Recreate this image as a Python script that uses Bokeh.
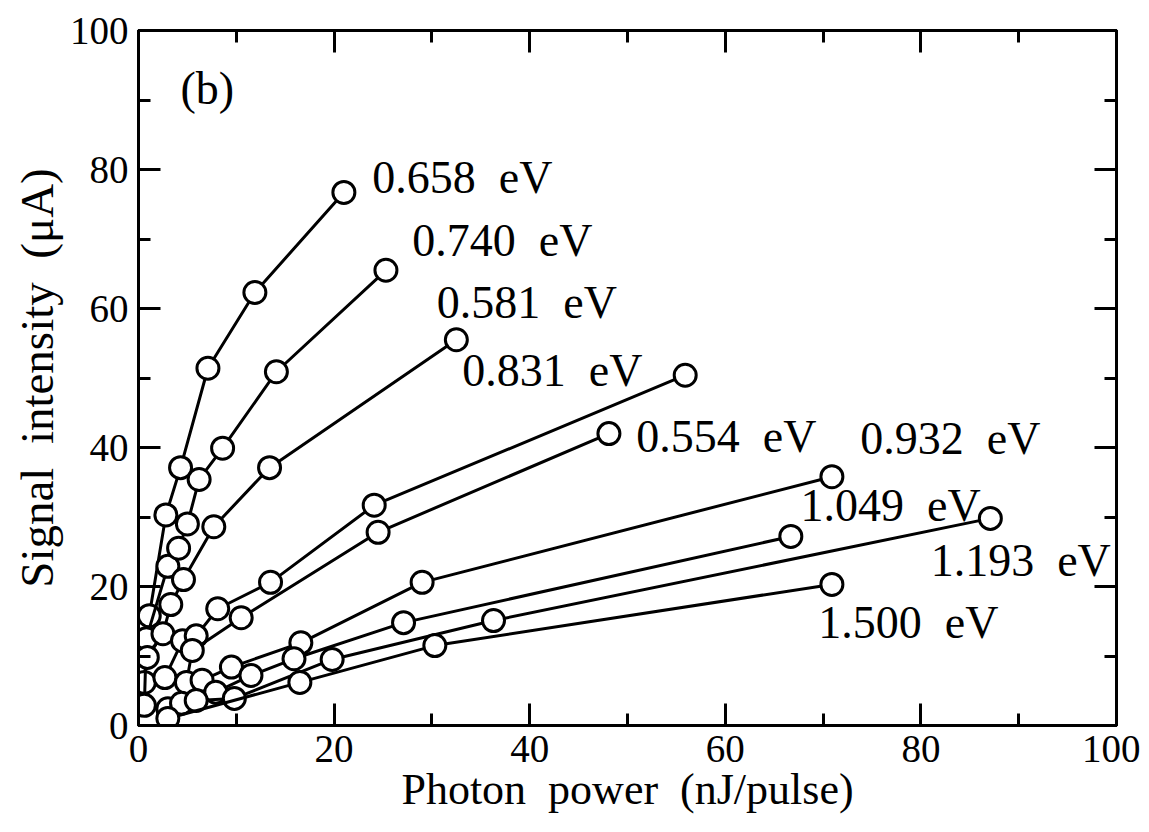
from bokeh.plotting import figure
from bokeh.models import LinearAxis, SingleIntervalTicker, Range1d
from bokeh.core.properties import value
from bokeh.embed import file_html
from bokeh.resources import INLINE

# ---- data ----
SP = "\u00a0\u00a0"
labels = ["0.658" + SP + "eV", "0.740" + SP + "eV", "0.581" + SP + "eV",
          "0.831" + SP + "eV", "0.554" + SP + "eV", "0.932" + SP + "eV",
          "1.049" + SP + "eV", "1.193" + SP + "eV", "1.500" + SP + "eV"]

x_0658 = [0.6, 1.1, 2.8, 4.3, 7.1, 11.9, 21.0]
y_0658 = [6.2, 15.8, 30.3, 37.1, 51.4, 62.3, 76.7]

x_0740 = [0.6, 0.8, 3.0, 4.1, 5.0, 6.2, 8.6, 14.1, 25.3]
y_0740 = [2.9, 12.5, 22.9, 25.5, 29.0, 35.4, 39.9, 50.9, 65.5]

x_0581 = [0.9, 2.5, 3.3, 4.6, 7.7, 13.4, 32.5]
y_0581 = [9.8, 13.2, 17.4, 21.0, 28.6, 37.1, 55.5]

x_0831 = [2.7, 4.5, 5.9, 8.1, 13.5, 24.1, 55.9]
y_0831 = [6.9, 12.2, 12.9, 16.8, 20.6, 31.7, 50.4]

x_0554 = [3.0, 4.9, 5.5, 10.5, 24.5, 48.1]
y_0554 = [2.4, 6.2, 10.8, 15.5, 27.8, 42.0]

x_0932 = [4.4, 6.5, 9.5, 16.6, 29.0, 70.9]
y_0932 = [3.2, 6.5, 8.4, 11.9, 20.6, 35.8]

x_1049 = [7.9, 11.5, 15.9, 27.1, 66.7]
y_1049 = [4.8, 7.2, 9.6, 14.8, 27.2]

x_1193 = [5.9, 9.8, 19.8, 36.3, 87.1]
y_1193 = [3.6, 3.9, 9.5, 15.1, 29.8]

x_1500 = [3.0, 16.5, 30.3, 70.9]
y_1500 = [1.0, 6.2, 11.5, 20.3]

series_x = [x_0658, x_0740, x_0581, x_0831, x_0554, x_0932, x_1049, x_1193, x_1500]
series_y = [y_0658, y_0740, y_0581, y_0831, y_0554, y_0932, y_1049, y_1193, y_1500]

# label anchor positions (data units)
label_x = [23.9, 28.0, 30.5, 33.1, 50.9, 73.8, 67.7, 81.0, 69.5]
label_y = [78.9, 69.8, 60.9, 51.1, 41.6, 41.3, 31.7, 23.7, 14.8]

FONT = "Liberation Serif"

p = figure(width=1140, height=825, output_backend="svg", toolbar_location=None,
           x_range=Range1d(0, 100), y_range=Range1d(0, 100),
           min_border_left=138, min_border_right=24, min_border_top=30,
           min_border_bottom=100)

p.xgrid.visible = False
p.ygrid.visible = False
p.background_fill_color = "white"
p.border_fill_color = "white"
p.outline_line_color = "black"
p.outline_line_width = 3

def style_axis(ax, show_labels):
    ax.ticker = SingleIntervalTicker(interval=20, num_minor_ticks=2)
    ax.axis_line_width = 3
    ax.axis_line_color = "black"
    ax.major_tick_in = 22
    ax.major_tick_out = 0
    ax.minor_tick_in = 12
    ax.minor_tick_out = 0
    ax.major_tick_line_width = 3
    ax.minor_tick_line_width = 3
    ax.major_tick_line_color = "black"
    ax.minor_tick_line_color = "black"
    ax.major_label_text_font = FONT
    ax.major_label_text_font_size = "39px"
    ax.major_label_text_color = "black"
    ax.axis_label_text_font = FONT
    ax.axis_label_text_font_size = "44px"
    ax.axis_label_text_font_style = "normal"
    ax.axis_label_text_color = "black"
    if not show_labels:
        ax.major_label_text_alpha = 0
        ax.major_label_text_font_size = "1px"

style_axis(p.xaxis[0], True)
style_axis(p.yaxis[0], True)
p.xaxis[0].axis_label = "Photon\u00a0\u00a0power\u00a0\u00a0(nJ/pulse)"
p.yaxis[0].axis_label = "Signal\u00a0\u00a0intensity\u00a0\u00a0(\u03bcA)"
p.yaxis[0].axis_label_text_font_size = "47px"
p.xaxis[0].major_label_standoff = 10
p.xaxis[0].axis_label_standoff = 0
p.yaxis[0].major_label_standoff = 10
p.yaxis[0].axis_label_standoff = 4

top_ax = LinearAxis()
right_ax = LinearAxis()
style_axis(top_ax, False)
style_axis(right_ax, False)
p.add_layout(top_ax, "above")
p.add_layout(right_ax, "right")

for xs, ys in zip(series_x, series_y):
    p.line(xs, ys, line_color="black", line_width=3)
    p.scatter(xs, ys, marker="circle", size=22, fill_color="white",
              line_color="black", line_width=3)

p.text(x=label_x, y=label_y, text=labels, text_font=value(FONT),
       text_font_size="46px", text_baseline="middle", text_align="left",
       text_color="black")

p.text(x=[4.3], y=[91.7], text=["(b)"], text_font=value(FONT),
       text_font_size="46px", text_baseline="middle", text_align="left",
       text_color="black")

open("out.html", "w").write(file_html(p, INLINE))
